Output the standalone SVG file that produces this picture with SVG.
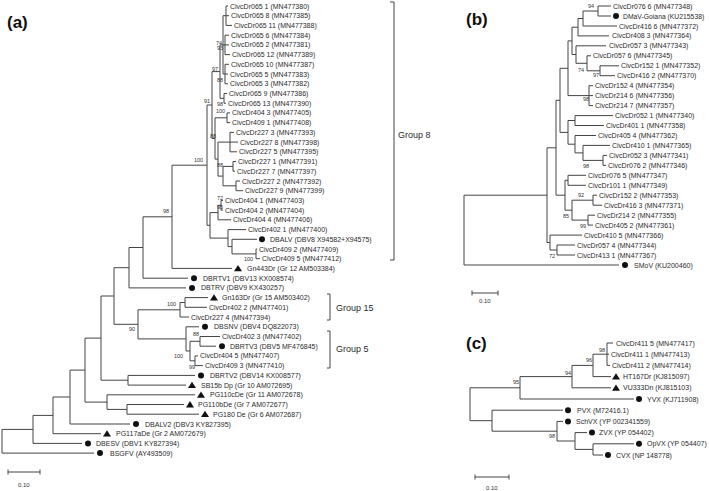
<svg xmlns="http://www.w3.org/2000/svg" xmlns:xlink="http://www.w3.org/1999/xlink" width="709" height="491" viewBox="0 0 709 491">
<defs>
<style>
.br{fill:none;stroke:#444;stroke-width:1}
.t{font-family:"Liberation Sans",Arial,sans-serif;font-size:7px;fill:#2b2b2b}
.bs{font-family:"Liberation Sans",Arial,sans-serif;font-size:5.5px;fill:#333}
.grp{font-family:"Liberation Sans",Arial,sans-serif;font-size:9px;fill:#2b2b2b}
.pl{font-family:"Liberation Sans",Arial,sans-serif;font-size:17px;font-weight:bold;fill:#111}
.mk{fill:#111}
</style>
<circle id="dot" r="3"/>
<path id="tri" d="M0,-3.4L4,2.9L-4,2.9Z"/>
</defs>
<rect width="709" height="491" fill="#fff"/>

<text class="pl" x="7" y="28">(a)</text>
<text class="pl" x="466" y="25">(b)</text>
<text class="pl" x="466" y="349">(c)</text>

<g id="connectors">
<path id="branches-a" class="br" d="M226,6V25.4M226,6H228M226,15.7H229M226,25.4H232M225,35.2V54.6M225,35.2H229M225,44.9H229M225,54.6H230M225,64.3V83.8M225,64.3H229M225,74H228M225,83.8H228M223,15.7V74M223,15.7H226M223,44.9H225M223,74H225M224,93.5V103.2M224,93.5H227M224,103.2H226M220,44.9V98.3M220,44.9H223M220,98.3H224M227,112.9V122.6M227,112.9H230M227,122.6H230M230,132.4V151.8M230,132.4H234M230,142.1H238M230,151.8H237M233,161.5V171.2M233,161.5H236M233,171.2H235M236,181V190.7M236,181H240M236,190.7H243M223,166.4V185.8M223,166.4H233M223,185.8H236M218,142.1V176.1M218,142.1H230M218,176.1H223M215,117.8V159.1M215,117.8H227M215,159.1H218M212,71.6V138.5M212,71.6H220M212,138.5H215M221,200.4V210.1M221,200.4H223M221,210.1H223M218,205.3V219.8M218,205.3H221M218,219.8H231M256,249V258.7M256,249H257M256,258.7H260M232,239.3V253.9M232,239.3H257M232,253.9H256M228,229.6V246.6M228,229.6H246M228,246.6H232M210,212.6V238.1M210,212.6H218M210,238.1H228M207,105V225.3M207,105H212M207,225.3H210M172,165.2V268.4M172,165.2H207M172,268.4H232M143,216.8V278.2M143,216.8H172M143,278.2H188M129,247.5V287.9M129,247.5H143M129,287.9H186M185,297.6V307.3M185,297.6H208M185,307.3H207M180,302.5V317M180,302.5H185M180,317H189M200,336.5V346.2M200,336.5H220M200,346.2H216M195,355.9V365.6M195,355.9H198M195,365.6H203M190,341.3V360.8M190,341.3H200M190,360.8H195M186,326.8V351M186,326.8H199M186,351H190M138,309.8V338.9M138,309.8H180M138,338.9H186M114,267.7V324.3M114,267.7H129M114,324.3H138M128,375.4V385.1M128,375.4H195M128,385.1H186M101,296V380.2M101,296H114M101,380.2H128M127,404.5V414.2M127,404.5H184M127,414.2H199M107,394.8V409.4M107,394.8H195M107,409.4H127M85,338.1V402.1M85,338.1H101M85,402.1H107M70,370.1V424M70,370.1H85M70,424H130M53,397V433.7M53,397H70M53,433.7H101M33,415.4V443.4M33,415.4H53M33,443.4H82M2,429.4V453.1M2,429.4H33M2,453.1H94"/>
<path id="branches-b" class="br" d="M598,6V16M598,6H611M598,16H611M583,11V26M583,11H598M583,26H617M578,18.5V35.9M578,18.5H583M578,35.9H609M600,65.8V75.7M600,65.8H619M600,75.7H615M587,55.8V70.8M587,55.8H591M587,70.8H600M576,45.8V63.3M576,45.8H606M576,63.3H587M572,27.2V54.5M572,27.2H578M572,54.5H576M589,85.7V105.6M589,85.7H593M589,95.6H593M589,105.6H593M568,40.9V95.6M568,40.9H572M568,95.6H589M575,115.6V125.5M575,115.6H613M575,125.5H604M603,155.4V165.4M603,155.4H607M603,165.4H606M583,145.4V160.4M583,145.4H610M583,160.4H603M575,135.5V152.9M575,135.5H596M575,152.9H583M568,120.5V144.2M568,120.5H575M568,144.2H575M560,68.3V132.4M560,68.3H568M560,132.4H568M568,175.3V185.3M568,175.3H586M568,185.3H586M593,195.2V205.2M593,195.2H597M593,205.2H602M588,215.2V225.1M588,215.2H595M588,225.1H593M572,200.2V220.1M572,200.2H593M572,220.1H588M565,180.3V210.2M565,180.3H568M565,210.2H572M556,100.3V195.2M556,100.3H560M556,195.2H565M557,245V255M557,245H575M557,255H575M550,235.1V250M550,235.1H582M550,250H557M547,147.8V242.5M547,147.8H556M547,242.5H550M464,195.2V265M464,195.2H547M464,265H619"/>
<path id="branches-c" class="br" d="M607,343V365.4M607,343H613M607,354.2H609M607,365.4H610M593,354.2V376.6M593,354.2H607M593,376.6H611M572,365.4V387.8M572,365.4H593M572,387.8H611M520,376.6V399M520,376.6H572M520,399H634M593,443.8V455M593,443.8H634M593,455H603M575,432.6V449.4M575,432.6H587M575,449.4H593M557,421.4V441M557,421.4H563M557,441H575M492,410.2V431.2M492,410.2H563M492,431.2H557M470,387.8V420.7M470,387.8H520M470,420.7H492"/>
<path id="brackets" class="br" d="M390,2H394V260H390M327,294H330V320H327M327,331H330V368H327"/>
<path id="scalebars" class="br" d="M8,472H40M8,469.5V474.5M40,469.5V474.5M472,293H498M472,290.5V295.5M498,290.5V295.5M475,477H509M475,474.5V479.5M509,474.5V479.5"/>
</g>

<g id="bootstrap">
<text class="bs" x="216" y="45">74</text>
<text class="bs" x="217" y="50">93</text>
<text class="bs" x="212" y="71">97</text>
<text class="bs" x="217" y="82">88</text>
<text class="bs" x="204" y="103">91</text>
<text class="bs" x="217" y="106">98</text>
<text class="bs" x="216" y="113">100</text>
<text class="bs" x="210" y="138">88</text>
<text class="bs" x="217" y="167">88</text>
<text class="bs" x="217" y="200">72</text>
<text class="bs" x="217" y="209">95</text>
<text class="bs" x="244" y="261">100</text>
<text class="bs" x="194" y="162">100</text>
<text class="bs" x="163" y="213">98</text>
<text class="bs" x="167" y="306">100</text>
<text class="bs" x="129" y="331">90</text>
<text class="bs" x="193" y="336">88</text>
<text class="bs" x="174" y="358">100</text>
<text class="bs" x="189" y="369">99</text>
<text class="bs" x="588" y="8">94</text>
<text class="bs" x="578" y="72">74</text>
<text class="bs" x="593" y="77">97</text>
<text class="bs" x="583" y="101">98</text>
<text class="bs" x="583" y="168">98</text>
<text class="bs" x="578" y="197">92</text>
<text class="bs" x="563" y="218">85</text>
<text class="bs" x="580" y="228">99</text>
<text class="bs" x="549" y="258">72</text>
<text class="bs" x="599" y="352">98</text>
<text class="bs" x="586" y="362">96</text>
<text class="bs" x="565" y="375">94</text>
<text class="bs" x="513" y="384">95</text>
<text class="bs" x="549" y="438">98</text>
</g>

<g id="groups">
<text class="grp" x="398" y="138">Group 8</text>
<text class="grp" x="336" y="311">Group 15</text>
<text class="grp" x="336" y="352">Group 5</text>
</g>

<g id="scale-labels">
<text class="bs" x="18" y="487" style="font-size:6px">0.10</text>
<text class="bs" x="479" y="303" style="font-size:6px">0.10</text>
<text class="bs" x="486" y="490" style="font-size:6px">0.10</text>
</g>

<g id="leaves-a">
<g id="a-CivcDr065-1"><text class="t" x="230" y="8.5">CivcDr065 1 (MN477380)</text></g>
<g id="a-CivcDr065-8"><text class="t" x="231" y="18.2">CivcDr065 8 (MN477385)</text></g>
<g id="a-CivcDr065-11"><text class="t" x="234" y="27.9">CivcDr065 11 (MN477388)</text></g>
<g id="a-CivcDr065-6"><text class="t" x="231" y="37.7">CivcDr065 6 (MN477384)</text></g>
<g id="a-CivcDr065-2"><text class="t" x="231" y="47.4">CivcDr065 2 (MN477381)</text></g>
<g id="a-CivcDr065-12"><text class="t" x="232" y="57.1">CivcDr065 12 (MN477389)</text></g>
<g id="a-CivcDr065-10"><text class="t" x="231" y="66.8">CivcDr065 10 (MN477387)</text></g>
<g id="a-CivcDr065-5"><text class="t" x="230" y="76.5">CivcDr065 5 (MN477383)</text></g>
<g id="a-CivcDr065-3"><text class="t" x="230" y="86.3">CivcDr065 3 (MN477382)</text></g>
<g id="a-CivcDr065-9"><text class="t" x="229" y="96">CivcDr065 9 (MN477386)</text></g>
<g id="a-CivcDr065-13"><text class="t" x="228" y="105.7">CivcDr065 13 (MN477390)</text></g>
<g id="a-CivcDr404-3"><text class="t" x="232" y="115.4">CivcDr404 3 (MN477405)</text></g>
<g id="a-CivcDr409-1"><text class="t" x="232" y="125.1">CivcDr409 1 (MN477408)</text></g>
<g id="a-CivcDr227-3"><text class="t" x="236" y="134.9">CivcDr227 3 (MN477393)</text></g>
<g id="a-CivcDr227-8"><text class="t" x="240" y="144.6">CivcDr227 8 (MN477398)</text></g>
<g id="a-CivcDr227-5"><text class="t" x="239" y="154.3">CivcDr227 5 (MN477395)</text></g>
<g id="a-CivcDr227-1"><text class="t" x="238" y="164">CivcDr227 1 (MN477391)</text></g>
<g id="a-CivcDr227-7"><text class="t" x="237" y="173.7">CivcDr227 7 (MN477397)</text></g>
<g id="a-CivcDr227-2"><text class="t" x="242" y="183.5">CivcDr227 2 (MN477392)</text></g>
<g id="a-CivcDr227-9"><text class="t" x="245" y="193.2">CivcDr227 9 (MN477399)</text></g>
<g id="a-CivcDr404-1"><text class="t" x="225" y="202.9">CivcDr404 1 (MN477403)</text></g>
<g id="a-CivcDr404-2"><text class="t" x="225" y="212.6">CivcDr404 2 (MN477404)</text></g>
<g id="a-CivcDr404-4"><text class="t" x="233" y="222.3">CivcDr404 4 (MN477406)</text></g>
<g id="a-CivcDr402-1"><text class="t" x="248" y="232.1">CivcDr402 1 (MN477400)</text></g>
<g id="a-DBALV"><use href="#dot" class="mk" x="262" y="239.3"/><text class="t" x="270" y="241.8">DBALV (DBV8 X94582+X94575)</text></g>
<g id="a-CivcDr409-2"><text class="t" x="259" y="251.5">CivcDr409 2 (MN477409)</text></g>
<g id="a-CivcDr409-5"><text class="t" x="262" y="261.2">CivcDr409 5 (MN477412)</text></g>
<g id="a-Gn443Dr"><use href="#tri" class="mk" x="238" y="268.4"/><text class="t" x="247" y="270.9">Gn443Dr (Gr 12 AM503384)</text></g>
<g id="a-DBRTV1"><use href="#dot" class="mk" x="194" y="278.2"/><text class="t" x="203" y="280.7">DBRTV1 (DBV13 KX008574)</text></g>
<g id="a-DBTRV"><use href="#dot" class="mk" x="192" y="287.9"/><text class="t" x="201" y="290.4">DBTRV (DBV9 KX430257)</text></g>
<g id="a-Gn163Dr"><use href="#tri" class="mk" x="214" y="297.6"/><text class="t" x="222" y="300.1">Gn163Dr (Gr 15 AM503402)</text></g>
<g id="a-CivcDr402-2"><text class="t" x="209" y="309.8">CivcDr402 2 (MN477401)</text></g>
<g id="a-CivcDr227-4"><text class="t" x="191" y="319.5">CivcDr227 4 (MN477394)</text></g>
<g id="a-DBSNV"><use href="#dot" class="mk" x="205" y="326.8"/><text class="t" x="214" y="329.3">DBSNV (DBV4 DQ822073)</text></g>
<g id="a-CivcDr402-3"><text class="t" x="222" y="339">CivcDr402 3 (MN477402)</text></g>
<g id="a-DBRTV3"><use href="#dot" class="mk" x="222" y="346.2"/><text class="t" x="230" y="348.7">DBRTV3 (DBV5 MF476845)</text></g>
<g id="a-CivcDr404-5"><text class="t" x="200" y="358.4">CivcDr404 5 (MN477407)</text></g>
<g id="a-CivcDr409-3"><text class="t" x="205" y="368.1">CivcDr409 3 (MN477410)</text></g>
<g id="a-DBRTV2"><use href="#dot" class="mk" x="201" y="375.4"/><text class="t" x="210" y="377.9">DBRTV2 (DBV14 KX008577)</text></g>
<g id="a-SB15bDp"><use href="#tri" class="mk" x="192" y="385.1"/><text class="t" x="201" y="387.6">SB15b Dp (Gr 10 AM072695)</text></g>
<g id="a-PG110cDe"><use href="#tri" class="mk" x="201" y="394.8"/><text class="t" x="210" y="397.3">PG110cDe (Gr 11 AM072678)</text></g>
<g id="a-PG110bDe"><use href="#tri" class="mk" x="190" y="404.5"/><text class="t" x="198" y="407">PG110bDe (Gr 7 AM072677)</text></g>
<g id="a-PG180De"><use href="#tri" class="mk" x="205" y="414.2"/><text class="t" x="213" y="416.7">PG180 De (Gr 6 AM072687)</text></g>
<g id="a-DBALV2"><use href="#dot" class="mk" x="136" y="424"/><text class="t" x="145" y="426.5">DBALV2 (DBV3 KY827395)</text></g>
<g id="a-PG117aDe"><use href="#tri" class="mk" x="107" y="433.7"/><text class="t" x="116" y="436.2">PG117aDe (Gr 2 AM072679)</text></g>
<g id="a-DBESV"><use href="#dot" class="mk" x="88" y="443.4"/><text class="t" x="96" y="445.9">DBESV (DBV1 KY827394)</text></g>
<g id="a-BSGFV"><use href="#dot" class="mk" x="100" y="453.1"/><text class="t" x="110" y="455.6">BSGFV (AY493509)</text></g>
</g>

<g id="leaves-b">
<g id="b-CivcDr076-6"><text class="t" x="613" y="8.5">CivcDr076 6 (MN477348)</text></g>
<g id="b-DMaV-Goiana"><use href="#dot" class="mk" x="616" y="16"/><text class="t" x="623" y="18.5" style="font-size:6.8px">DMaV-Goiana (KU215538)</text></g>
<g id="b-CivcDr416-6"><text class="t" x="619" y="28.5">CivcDr416 6 (MN477372)</text></g>
<g id="b-CivcDr408-3"><text class="t" x="612" y="38.4">CivcDr408 3 (MN477364)</text></g>
<g id="b-CivcDr057-3"><text class="t" x="609" y="48.3">CivcDr057 3 (MN477343)</text></g>
<g id="b-CivcDr057-6"><text class="t" x="593" y="58.3">CivcDr057 6 (MN477345)</text></g>
<g id="b-CivcDr152-1"><text class="t" x="621" y="68.3">CivcDr152 1 (MN477352)</text></g>
<g id="b-CivcDr416-2"><text class="t" x="617" y="78.2">CivcDr416 2 (MN477370)</text></g>
<g id="b-CivcDr152-4"><text class="t" x="595" y="88.2">CivcDr152 4 (MN477354)</text></g>
<g id="b-CivcDr214-6"><text class="t" x="595" y="98.1">CivcDr214 6 (MN477356)</text></g>
<g id="b-CivcDr214-7"><text class="t" x="595" y="108.1">CivcDr214 7 (MN477357)</text></g>
<g id="b-CivcDr052-1"><text class="t" x="615" y="118.1">CivcDr052 1 (MN477340)</text></g>
<g id="b-CivcDr401-1"><text class="t" x="606" y="128">CivcDr401 1 (MN477358)</text></g>
<g id="b-CivcDr405-4"><text class="t" x="598" y="138">CivcDr405 4 (MN477362)</text></g>
<g id="b-CivcDr410-1"><text class="t" x="612" y="147.9">CivcDr410 1 (MN477365)</text></g>
<g id="b-CivcDr052-3"><text class="t" x="609" y="157.9">CivcDr052 3 (MN477341)</text></g>
<g id="b-CivcDr076-2"><text class="t" x="608" y="167.9">CivcDr076 2 (MN477346)</text></g>
<g id="b-CivcDr076-5"><text class="t" x="588" y="177.8">CivcDr076 5 (MN477347)</text></g>
<g id="b-CivcDr101-1"><text class="t" x="588" y="187.8">CivcDr101 1 (MN477349)</text></g>
<g id="b-CivcDr152-2"><text class="t" x="599" y="197.7">CivcDr152 2 (MN477353)</text></g>
<g id="b-CivcDr416-3"><text class="t" x="604" y="207.7">CivcDr416 3 (MN477371)</text></g>
<g id="b-CivcDr214-2"><text class="t" x="597" y="217.7">CivcDr214 2 (MN477355)</text></g>
<g id="b-CivcDr405-2"><text class="t" x="595" y="227.6">CivcDr405 2 (MN477361)</text></g>
<g id="b-CivcDr410-5"><text class="t" x="584" y="237.6">CivcDr410 5 (MN477366)</text></g>
<g id="b-CivcDr057-4"><text class="t" x="577" y="247.5">CivcDr057 4 (MN477344)</text></g>
<g id="b-CivcDr413-1"><text class="t" x="577" y="257.5">CivcDr413 1 (MN477367)</text></g>
<g id="b-SMoV"><use href="#dot" class="mk" x="625" y="265"/><text class="t" x="634" y="267.5">SMoV (KU200460)</text></g>
</g>

<g id="leaves-c">
<g id="c-CivcDr411-5"><text class="t" x="616" y="345.5">CivcDr411 5 (MN477417)</text></g>
<g id="c-CivcDr411-1"><text class="t" x="611" y="356.7">CivcDr411 1 (MN477413)</text></g>
<g id="c-CivcDr411-2"><text class="t" x="612" y="367.9">CivcDr411 2 (MN477414)</text></g>
<g id="c-HT167Dr"><use href="#tri" class="mk" x="616" y="376.6"/><text class="t" x="623" y="379.1">HT167Dr (KJ815097)</text></g>
<g id="c-VU333Dn"><use href="#tri" class="mk" x="616" y="387.8"/><text class="t" x="623" y="390.3">VU333Dn (KJ815103)</text></g>
<g id="c-YVX"><use href="#dot" class="mk" x="639" y="399"/><text class="t" x="647" y="401.5">YVX (KJ711908)</text></g>
<g id="c-PVX"><use href="#dot" class="mk" x="568" y="410.2"/><text class="t" x="577" y="412.7">PVX (M72416.1)</text></g>
<g id="c-SchVX"><use href="#dot" class="mk" x="568" y="421.4"/><text class="t" x="576" y="423.9">SchVX (YP 002341559)</text></g>
<g id="c-ZVX"><use href="#dot" class="mk" x="592" y="432.6"/><text class="t" x="599" y="435.1">ZVX (YP 054402)</text></g>
<g id="c-OpVX"><use href="#dot" class="mk" x="639" y="443.8"/><text class="t" x="647" y="446.3">OpVX (YP 054407)</text></g>
<g id="c-CVX"><use href="#dot" class="mk" x="608" y="455"/><text class="t" x="616" y="457.5">CVX (NP 148778)</text></g>
</g>
</svg>
